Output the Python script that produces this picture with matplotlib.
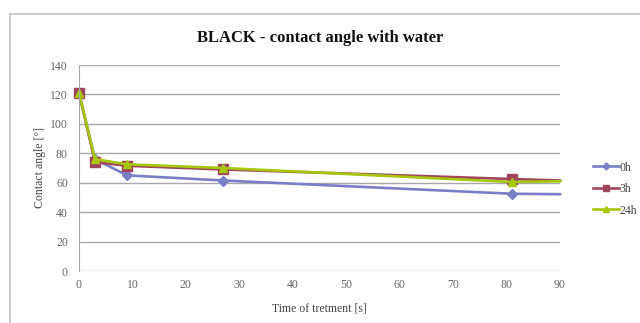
import matplotlib
matplotlib.use("Agg")
import matplotlib.pyplot as plt
from matplotlib.patches import Rectangle

# Treatment time [s] and measured contact angles [deg]
time_s = [0, 3, 9, 27, 81, 90]
angle_0h = [121, 76, 65, 61.5, 52.5, 52.2]
angle_3h = [121, 74, 71.5, 69, 62.5, 61.5]
angle_24h = [121, 76, 72.5, 70, 60.5, 61]
series_labels = ["0h", "3h", "24h"]
y_ticks = [0, 20, 40, 60, 80, 100, 120, 140]
x_ticks = [0, 10, 20, 30, 40, 50, 60, 70, 80, 90]

plt.rcParams["font.family"] = ["Liberation Serif", "DejaVu Serif"]

W, H = 640, 323
fig = plt.figure(figsize=(W / 100, H / 100), dpi=100)

# chart frame (runs past the right and bottom edges)
fig.patches.append(Rectangle((10 / W, -0.2), 1.2, 1.2 - 14 / H, transform=fig.transFigure,
                             fill=False, edgecolor="#c4c4c4", lw=1.2))

ax = fig.add_axes([79 / W, 1 - 271 / H, (560 - 79) / W, (271 - 65) / H])

colors = ["#7a7ec6", "#a0465a", "#a6c80c"]
markers = ["D", "s", "^"]
msizes = [5, 7, 6]
lines = []
for vals, c, m, ms, lab in zip([angle_0h, angle_3h, angle_24h], colors, markers, msizes, series_labels):
    ln, = ax.plot(time_s, vals, color=c, lw=1.9, marker=m, ms=ms, markevery=[0, 1, 2, 3, 4],
                  markeredgecolor=c, label=lab, clip_on=False)
    lines.append(ln)

ax.set_xlim(0, 90)
ax.set_ylim(0, 140)
ax.set_yticks(y_ticks)
ax.set_xticks(x_ticks)
ax.grid(axis="y", color="#a8a8a8", lw=1.0)
ax.set_axisbelow(True)
for s in ["top", "right", "bottom"]:
    ax.spines[s].set_visible(False)
ax.spines["left"].set_color("#a8a8a8")
ax.tick_params(axis="both", length=0, labelsize=8.5, colors="#666666", pad=6)
ax.tick_params(axis="y", pad=8)

ax.set_xlabel("Time of tretment [s]", fontsize=8.5, color="#444444", labelpad=8)
ax.set_ylabel("Contact angle [°]", fontsize=8.5, color="#444444", labelpad=3)
fig.text(320 / W, 1 - 38 / H, "BLACK - contact angle with water", ha="center", va="center",
         fontsize=12, fontweight="bold", color="#111111")

leg = fig.legend(lines, series_labels, loc="upper left", bbox_to_anchor=(582 / W, 1 - 151 / H),
                 frameon=False, fontsize=8.5, handlelength=2.2, handletextpad=0.1,
                 labelspacing=0.8, markerscale=0.7)
for t in leg.get_texts():
    t.set_color("#444444")

fig.savefig("out.png", dpi=100)
